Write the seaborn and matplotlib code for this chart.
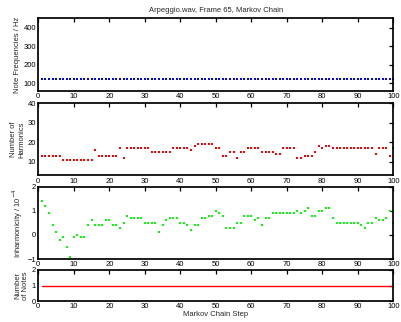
import numpy as np
import pandas as pd
import matplotlib
matplotlib.use("Agg")
import matplotlib.pyplot as plt
import seaborn as sns

steps = list(range(1, 101))

note_freq = [122] * 100

harmonics = ([13] * 6 + [11] * 9 + [16] + [13] * 6 + [17] + [12] + [17] * 7 +
             [15] * 6 + [17] * 5 + [16] + [18] + [19] * 5 + [17] * 2 + [13] * 2 +
             [15] * 2 + [12] + [15] * 2 + [17] * 4 + [15] * 4 + [14] * 2 + [17] * 4 +
             [12] * 2 + [13] * 3 + [15] + [18] + [17] + [18] * 2 + [17] * 12 + [14] +
             [17] * 3 + [13] + [17])

inharmonicity = [1.4, 1.2, 0.9, 0.4, 0.1, -0.2, -0.1, -0.5, -0.9, -0.1,
                 0.0, -0.1, -0.1, 0.4, 0.6, 0.4, 0.4, 0.4, 0.6, 0.6,
                 0.4, 0.4, 0.3, 0.5, 0.8, 0.7, 0.7, 0.7, 0.7, 0.5,
                 0.5, 0.5, 0.5, 0.1, 0.4, 0.6, 0.7, 0.7, 0.7, 0.5,
                 0.5, 0.4, 0.2, 0.4, 0.4, 0.7, 0.7, 0.8, 0.8, 1.0,
                 0.9, 0.8, 0.3, 0.3, 0.3, 0.5, 0.5, 0.8, 0.8, 0.8,
                 0.6, 0.7, 0.4, 0.7, 0.7, 0.9, 0.9, 0.9, 0.9, 0.9,
                 0.9, 0.9, 1.0, 0.9, 1.0, 1.1, 0.8, 0.8, 1.0, 1.0,
                 1.1, 1.1, 0.7, 0.5, 0.5, 0.5, 0.5, 0.5, 0.5, 0.5,
                 0.4, 0.3, 0.5, 0.5, 0.7, 0.6, 0.6, 0.7, 1.0, 0.5]

num_notes = [1] * 100

xticks = list(range(0, 101, 10))

sns.set_theme(style="white")
plt.rcParams['font.family'] = ['Liberation Sans', 'DejaVu Sans']
plt.rcParams['font.size'] = 5.5
plt.rcParams['axes.linewidth'] = 1.0
plt.rcParams['xtick.direction'] = 'in'
plt.rcParams['ytick.direction'] = 'in'

W, H = 401, 322
fig = plt.figure(figsize=(W / 100, H / 100), dpi=100)

def make_ax(top, bottom):
    left = 38.3 / W
    width = 355.0 / W
    return fig.add_axes([left, 1 - bottom / H, width, (bottom - top) / H])

ax1 = make_ax(18, 91)
ax2 = make_ax(103, 175.5)
ax3 = make_ax(186.5, 259)
ax4 = make_ax(270, 301)

df = pd.DataFrame({"step": steps, "freq": note_freq, "harm": harmonics,
                   "inh": inharmonicity, "notes": num_notes})

sns.scatterplot(data=df, x="step", y="freq", ax=ax1, color="blue", s=1.2,
                marker="s", linewidth=0)
sns.scatterplot(data=df, x="step", y="harm", ax=ax2, color="red", s=1.5,
                marker="s", linewidth=0)
sns.scatterplot(data=df, x="step", y="inh", ax=ax3, color="#00ff00", s=1.5,
                marker="s", linewidth=0)
sns.lineplot(data=df, x="step", y="notes", ax=ax4, color="red", linewidth=1.0)

ax1.set_ylim(58, 452)
ax1.set_yticks([100, 200, 300, 400])
ax2.set_ylim(3, 40)
ax2.set_yticks([10, 20, 30, 40])
ax3.set_ylim(-1, 2)
ax3.set_yticks([-1, 0, 1, 2])
ax4.set_ylim(0, 2)
ax4.set_yticks([0, 1, 2])

for ax in (ax1, ax2, ax3, ax4):
    ax.set_xlim(0, 100)
    ax.set_xticks(xticks)
    ax.set_xticklabels([str(t) for t in xticks])
    ax.tick_params(axis='both', which='both', direction='in', length=2.8,
                   width=0.9, labelsize=5.5, pad=1.5, top=True, right=True,
                   colors='black')
    for s in ax.spines.values():
        s.set_color('black')
        s.set_linewidth(1.25)
    ax.set_xlabel("")
    ax.set_facecolor('white')

ax1.set_title("Arpeggio.wav, Frame 65, Markov Chain", fontsize=5.5, pad=4)
ax1.set_ylabel("Note Frequencies / Hz", fontsize=5.5, labelpad=2)
ax2.set_ylabel("Number of\nHarmonics", fontsize=5.5, labelpad=2)
ax3.set_ylabel("Inharmonicity / 10$^{-4}$", fontsize=5.5, labelpad=2)
ax4.set_ylabel("Number\nof Notes", fontsize=5.5, labelpad=2)
ax4.set_xlabel("Markov Chain Step", fontsize=5.5, labelpad=1)

fig.savefig("out.png", dpi=100, facecolor='white')
